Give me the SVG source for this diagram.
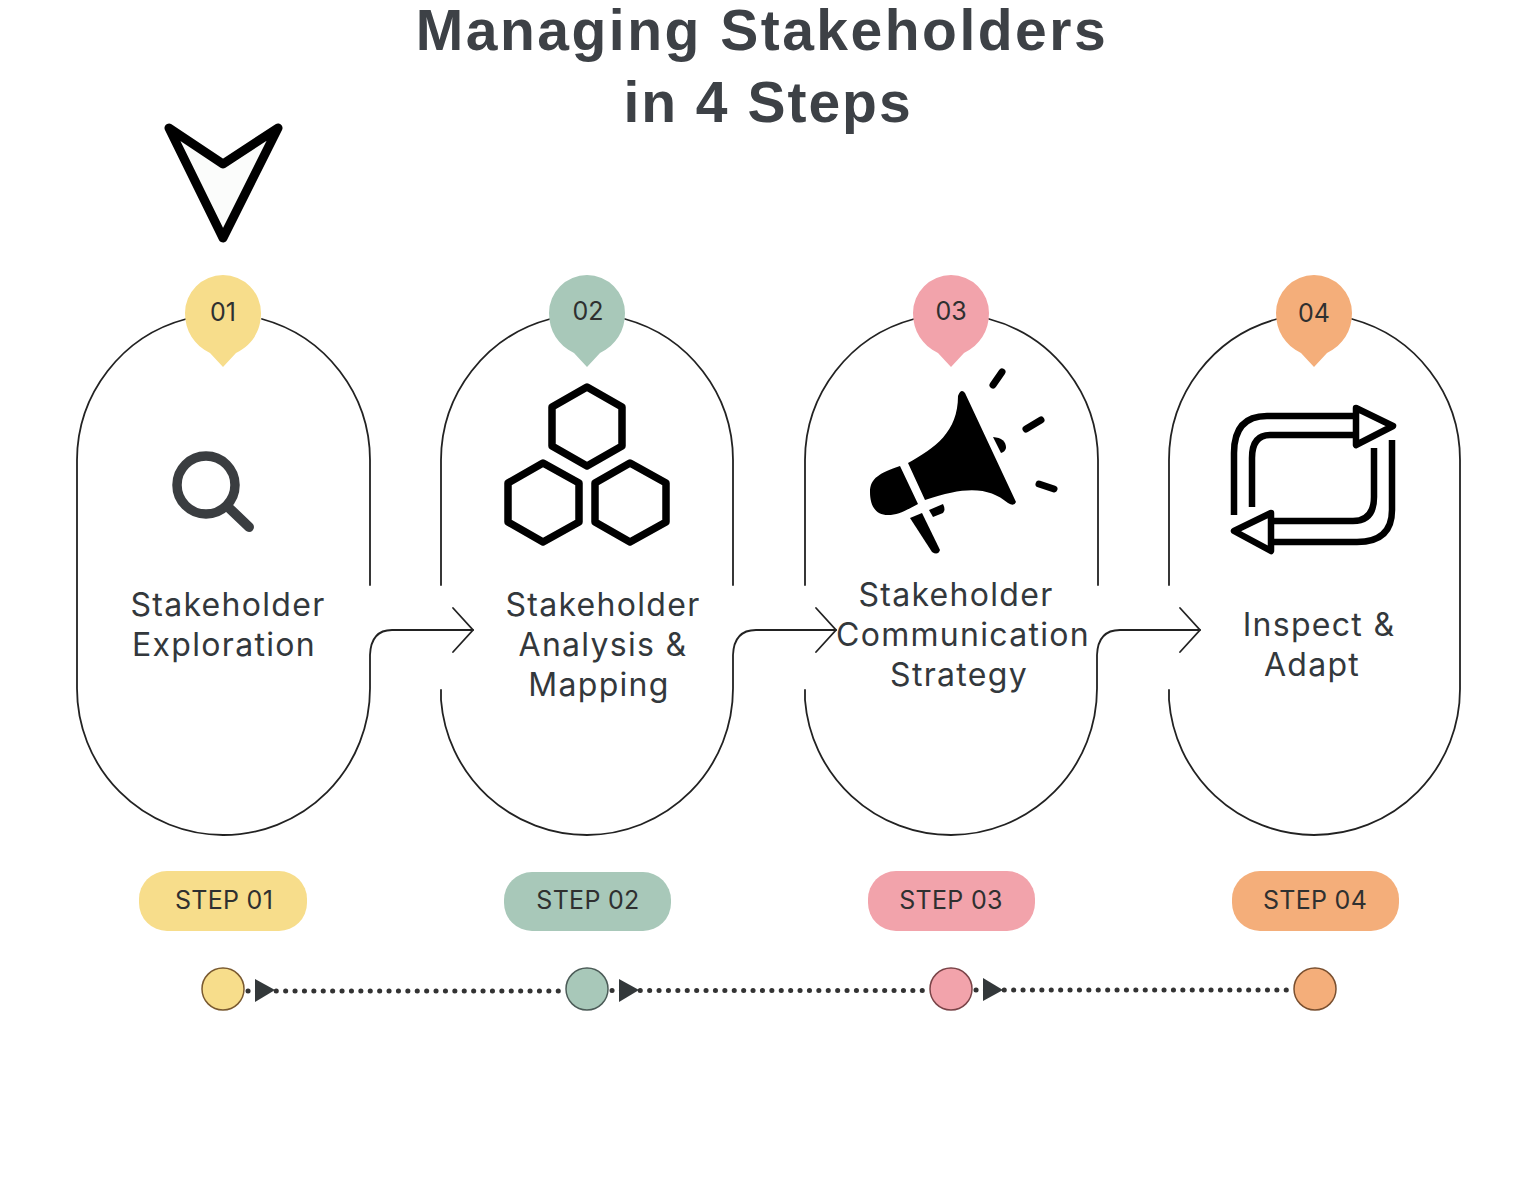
<svg xmlns="http://www.w3.org/2000/svg" width="1536" height="1180" viewBox="0 0 1536 1180">
<style>
.title{font-family:"Liberation Sans",sans-serif;font-size:57px;font-weight:700;fill:#3d4146;text-anchor:middle;letter-spacing:2.5px}
.lab{font-size:32px;fill:#33383c;text-anchor:middle;letter-spacing:1.3px;font-family:"Inter","Liberation Sans",sans-serif}
.num{font-size:25px;fill:#2f3030;text-anchor:middle;font-family:"Inter","Liberation Sans",sans-serif}
.step{font-size:25px;fill:#2f3030;text-anchor:middle;letter-spacing:.3px;font-family:"Inter","Liberation Sans",sans-serif}
.line{fill:none;stroke:#222;stroke-width:1.8;stroke-linecap:round}
.ic{fill:none;stroke:#000;stroke-linejoin:round}
.y{fill:#f7dd8b}.g{fill:#a8c8b9}.p{fill:#f2a3ab}.o{fill:#f4ae7a}
.dot{fill:none;stroke:#333;stroke-width:5;stroke-linecap:round;stroke-dasharray:0.1 9.3}
.head{fill:#33383a}
</style>
<rect width="1536" height="1180" fill="#fff"/>
<g id="title">
<text class="title" x="762" y="50">Managing Stakeholders</text>
<text class="title" x="768" y="122" style="letter-spacing:2px">in 4 Steps</text>
</g>
<g id="pointer"><path d="M169 128L223 164L278 128L223 238Z" fill="#fbfcfb" stroke="#000" stroke-width="9" stroke-linejoin="round"/></g>
<g id="connectors">
<path class="line" d="M370 585V460A146.500 146.500 0 0 0 262 319"/>
<path class="line" d="M473 630H392Q371 630 370 655V688A146.500 146.500 0 0 1 223 835A146.500 146.500 0 0 1 77 688V460A146.500 146.500 0 0 1 186 319"/>
<path class="line" d="M453 608L473 630L453 652"/>
<path class="line" d="M441 585V460A146.500 146.500 0 0 1 550 319M625 319A146.500 146.500 0 0 1 733 460V585"/>
<path class="line" d="M441 690V700A146.500 146.500 0 0 0 587 835A146.500 146.500 0 0 0 733 688V655Q734 630 756 630H836"/>
<path class="line" d="M816 608L836 630L816 652"/>
<path class="line" d="M805 585V460A146.500 146.500 0 0 1 914 319M989 319A146.500 146.500 0 0 1 1098 460V585"/>
<path class="line" d="M805 690V700A146.500 146.500 0 0 0 951 835A146.500 146.500 0 0 0 1097 688V655Q1098 630 1120 630H1200"/>
<path class="line" d="M1180 608L1200 630L1180 652"/>
<path class="line" d="M1169 585V460A146 146 0 0 1 1277 319M1352 319A146 146 0 0 1 1460 460V688A146 146 0 0 1 1314 835A146 146 0 0 1 1169 700V690"/>
</g>
<g id="step1">
<path class="y" d="M223 367L210 353C194 345 185 331 185 313A38 38 0 0 1 261 313C261 331 252 345 236 353Z"/>
<text class="num" x="223" y="321">01</text>
<g fill="none" stroke="#3a3d40" stroke-linecap="round"><circle cx="206" cy="485" r="29" stroke-width="9.500"/><path d="M228 507L249 527" stroke-width="10"/></g>
<text class="lab" x="228" y="616">Stakeholder</text><text class="lab" x="224" y="656">Exploration</text>
<rect class="y" x="139" y="871" width="168" height="60" rx="28"/>
<text class="step" x="224" y="909">STEP 01</text>
</g>
<g id="step2">
<path class="g" d="M587 367L574 353C558 345 549 331 549 313A38 38 0 0 1 625 313C625 331 616 345 600 353Z"/>
<text class="num" x="588" y="320">02</text>
<g class="ic" stroke-width="7.500"><path d="M587 387L622 407V446L587 466L552 446V407Z"/><path d="M543 463L579 483V522L543 542L508 522V483Z"/><path d="M630 463L666 483V522L630 542L595 522V483Z"/></g>
<text class="lab" x="603" y="616">Stakeholder</text><text class="lab" x="603" y="656">Analysis &amp;</text><text class="lab" x="599" y="696">Mapping</text>
<rect class="g" x="504" y="872" width="167" height="59" rx="28"/>
<text class="step" x="588" y="909">STEP 02</text>
</g>
<g id="step3">
<path class="p" d="M951 367L938 353C922 345 913 331 913 313A38 38 0 0 1 989 313C989 331 980 345 964 353Z"/>
<text class="num" x="951" y="320">03</text>
<g fill="#000"><path d="M958 396Q961 388 965 393L1016 502Q1014 507 1008 503C990 488 968 485 925 500L908 463C935 448 958 432 958 396Z"/>
<path d="M900 466L918 504C905 511 898 515 888 515C875 515 870 505 870 492C870 478 880 473 900 466Z"/>
<path d="M910 518L922 513L940 550Q938 556 932 552Z"/>
<path d="M929 510L943 504Q946 510 943 513L933 517Z"/>
<path d="M993 437Q1006 438 1006 448Q1005 452 1001 453Z"/></g>
<g stroke="#000" stroke-width="7" stroke-linecap="round"><path d="M993 385L1002 372"/><path d="M1026 429L1041 420"/><path d="M1039 484L1054 489"/></g>
<text class="lab" x="956" y="606">Stakeholder</text><text class="lab" x="963" y="646">Communication</text><text class="lab" x="959" y="686">Strategy</text>
<rect class="p" x="868" y="871" width="167" height="60" rx="28"/>
<text class="step" x="951" y="909">STEP 03</text>
</g>
<g id="step4">
<path class="o" d="M1314 367L1301 353C1285 345 1276 331 1276 313A38 38 0 0 1 1352 313C1352 331 1343 345 1327 353Z"/>
<text class="num" x="1314" y="322">04</text>
<g fill="none" stroke="#000" stroke-width="6.500"><path d="M1234 515V453Q1234 416 1267 416H1355M1252 507V458Q1252 435 1270 435H1355M1392 440V510Q1392 542 1357 542H1273M1374 448V497Q1374 521 1353 521H1273"/>
<path d="M1356 408L1393 426L1356 445Z" stroke-linejoin="round"/><path d="M1271 513L1234 531L1271 551Z" stroke-linejoin="round"/></g>
<text class="lab" x="1319" y="636">Inspect &amp;</text><text class="lab" x="1312" y="676">Adapt</text>
<rect class="o" x="1232" y="871" width="167" height="60" rx="28"/>
<text class="step" x="1315" y="909">STEP 04</text>
</g>
<g id="timeline">
<path class="dot" d="M248 991H560"/><path class="dot" d="M612 990.500H924"/><path class="dot" d="M976 990H1288"/>
<path class="head" d="M255 979L275 990L255 1002Z"/><path class="head" d="M619 979L639 990L619 1002Z"/><path class="head" d="M983 978L1003 990L983 1001Z"/>
<circle id="t1" class="y" cx="223" cy="989" r="21" stroke="#7a5a30" stroke-width="1.500"/>
<circle id="t2" class="g" cx="587" cy="989" r="21" stroke="#4c5c58" stroke-width="1.500"/>
<circle id="t3" class="p" cx="951" cy="989" r="21" stroke="#7a4448" stroke-width="1.500"/>
<circle id="t4" class="o" cx="1315" cy="989" r="21" stroke="#7a5030" stroke-width="1.500"/>
</g>
</svg>
